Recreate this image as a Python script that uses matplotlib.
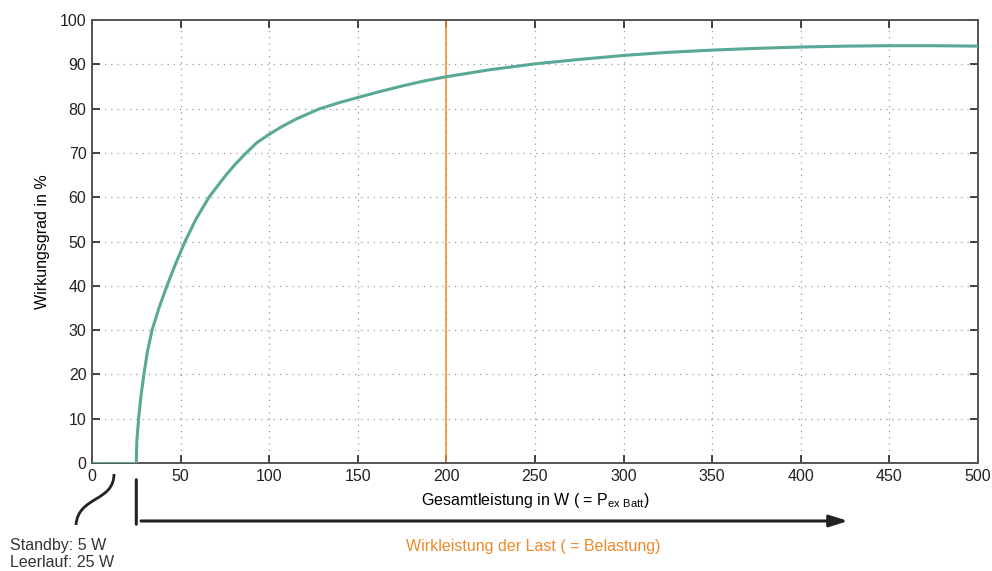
import matplotlib
matplotlib.use('Agg')
import matplotlib.pyplot as plt
from matplotlib.path import Path
from matplotlib.patches import PathPatch

plt.rcParams['font.family'] = ['Liberation Sans', 'DejaVu Sans']

# efficiency curve (W, %)
standby_x = [0, 25]
standby_y = [0, 0]
power_w = [25, 25.3, 26.3, 27.6, 29.3, 31.2, 33.9, 37.8, 42.3, 47.2, 52.5, 58.6,
           66, 75.6, 81, 87, 93, 100, 107, 115, 128, 140, 150, 162, 175, 187, 200,
           225, 250, 275, 300, 325, 350, 375, 400, 425, 450, 475, 500]
eff_pct = [0, 5, 10, 15, 20, 25, 30, 35, 40, 45, 50, 55,
           60, 65, 67.5, 70, 72.3, 74.2, 75.9, 77.6, 79.9, 81.4, 82.5, 83.8, 85.1, 86.2, 87.2,
           88.8, 90.1, 91.1, 92, 92.7, 93.2, 93.6, 93.9, 94.1, 94.2, 94.2, 94.1]
marker_x = 200
leerlauf_w = 25
x_ticks = list(range(0, 501, 50))
y_ticks = list(range(0, 101, 10))

teal = '#5aa896'
orange = '#f0892a'
W, H = 992, 571

fig = plt.figure(figsize=(9.92, 5.71), dpi=100)
ax = fig.add_axes([92 / W, 108 / H, (978 - 92) / W, (463 - 20) / H])

ax.plot(standby_x, standby_y, color=teal, lw=2.2, zorder=3)
ax.plot(power_w, eff_pct, color=teal, lw=2.2, zorder=3, solid_joinstyle='round')
ax.axvline(marker_x, color=orange, lw=1.1, zorder=2)

ax.set_xlim(0, 500)
ax.set_ylim(0, 100)
ax.set_xticks(x_ticks)
ax.set_yticks(y_ticks)
ax.tick_params(direction='in', length=6, width=1.2, top=True, right=True,
               labelsize=11.5, colors='#222222', pad=4)
ax.grid(True, color='#999999', linestyle=(0, (1, 4)), lw=0.9)
for s in ax.spines.values():
    s.set_color('#555555')
    s.set_linewidth(1.4)

ax.set_ylabel('Wirkungsgrad in %', fontsize=11.5, labelpad=7)
ax.set_xlabel(r'Gesamtleistung in W ( = P$_{\mathregular{ex\ Batt}}$)', fontsize=11.5, labelpad=5)

# annotations below the axes (figure pixel positions)
def fy(y):
    return (H - y) / H

ax.annotate('', xy=(leerlauf_w, fy(477)), xytext=(leerlauf_w, fy(527)),
            xycoords=('data', 'figure fraction'), textcoords=('data', 'figure fraction'),
            arrowprops=dict(arrowstyle='-', color='#222222', lw=2.2))
ax.annotate('', xy=((848 - 92) / 1.772, fy(521)), xytext=((141 - 92) / 1.772, fy(521)),
            xycoords=('data', 'figure fraction'), textcoords=('data', 'figure fraction'),
            arrowprops=dict(arrowstyle='-|>,head_length=1.1,head_width=0.35',
                            color='#222222', lw=2.2, shrinkA=0, shrinkB=0))

verts = [(114 / W, fy(474)), (114 / W, fy(502)), (78 / W, fy(496)), (76 / W, fy(525))]
path = Path(verts, [Path.MOVETO, Path.CURVE4, Path.CURVE4, Path.CURVE4])
fig.add_artist(PathPatch(path, fill=False, edgecolor='#222222', lw=2.0,
                         transform=fig.transFigure))

fig.text(533 / W, fy(546), 'Wirkleistung der Last ( = Belastung)', color=orange,
         fontsize=11.5, ha='center', va='center')
fig.text(10 / W, fy(554), 'Standby: 5 W\nLeerlauf: 25 W', color='#333333',
         fontsize=11.5, ha='left', va='center', linespacing=1.2)

fig.savefig('out.png', dpi=100)
